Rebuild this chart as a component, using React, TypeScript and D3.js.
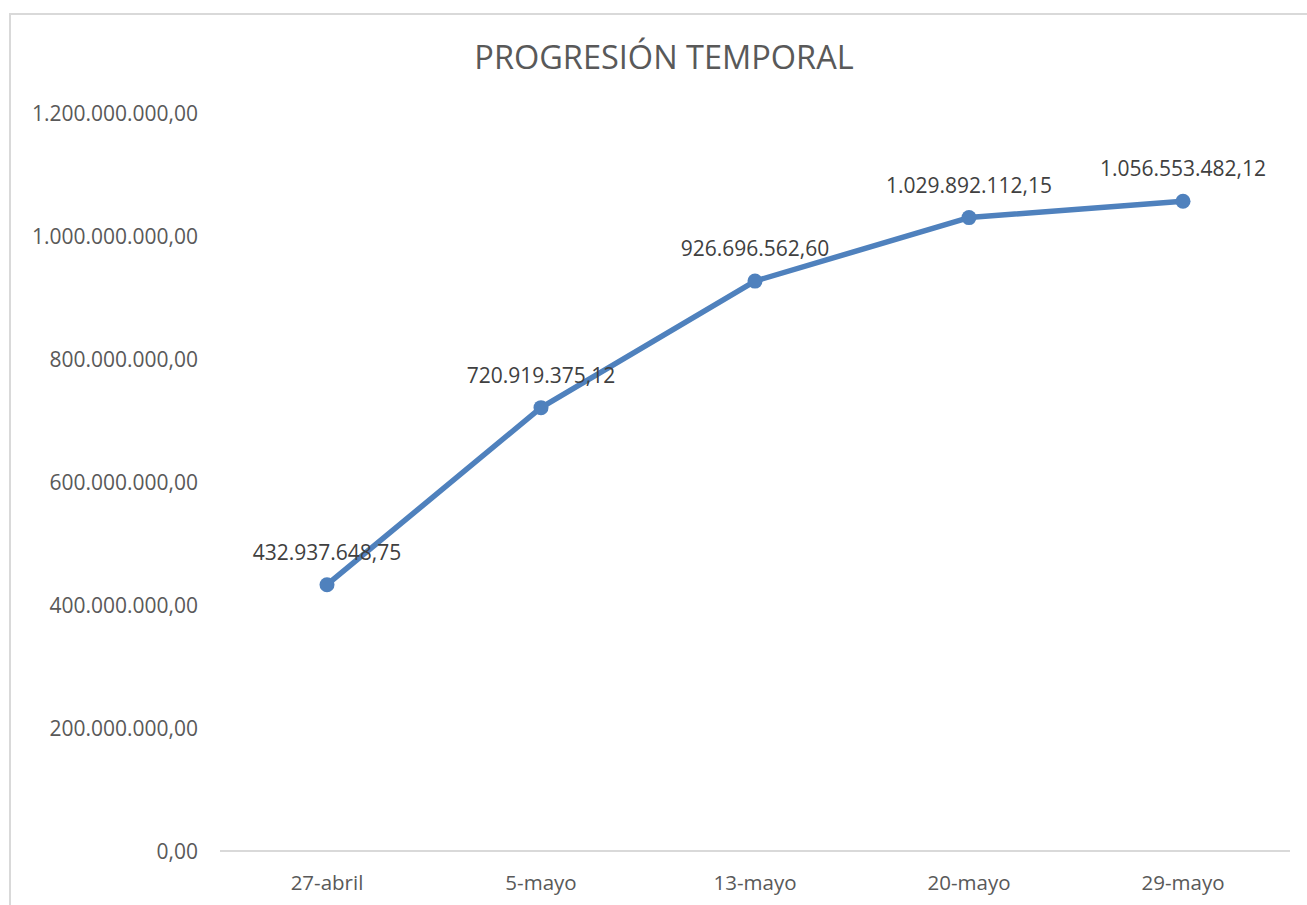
import React from "react";
import * as d3 from "d3";

const categories = ["27-abril", "5-mayo", "13-mayo", "20-mayo", "29-mayo"];
const values = [432937648.75, 720919375.12, 926696562.6, 1029892112.15, 1056553482.12];
const yTicks = [0, 200000000, 400000000, 600000000, 800000000, 1000000000, 1200000000];
const title = "PROGRESIÓN TEMPORAL";

const fmt = (v: number) => {
  const [i, d] = v.toFixed(2).split(".");
  return i.replace(/\B(?=(\d{3})+(?!\d))/g, ".") + "," + d;
};

export default function App() {
  const W = 1307, H = 905;
  const left = 220, right = 1290, top = 113, bottom = 851;
  const x = d3.scaleBand<string>().domain(categories).range([left, right]);
  const y = d3.scaleLinear().domain([0, 1200000000]).range([bottom, top]);
  const cx = (i: number) => (x(categories[i]) as number) + x.bandwidth() / 2;
  const line = d3.line<number>().x((_, i) => cx(i)).y((v) => y(v));
  const font = "'Open Sans', sans-serif";
  const grey = "#595959";
  const blue = "#4f81bd";
  return (
    <svg width={W} height={H} style={{ position: "absolute", left: 0, top: 0 }} fontFamily={font}>
      <rect x={0} y={0} width={W} height={H} fill="#fff" />
      <rect x={10} y={14} width={1310} height={1000} fill="none" stroke="#d9d9d9" strokeWidth={2} />
      <text x={664} y={69} textAnchor="middle" fontSize={32.5} fill={grey}>{title}</text>
      {yTicks.map((t) => (
        <text key={t} x={198} y={y(t)} dy="0.36em" textAnchor="end" fontSize={21} fill={grey}>{fmt(t)}</text>
      ))}
      <line x1={left} x2={right} y1={bottom} y2={bottom} stroke="#d9d9d9" strokeWidth={2} />
      {categories.map((c, i) => (
        <text key={c} x={cx(i)} y={890} textAnchor="middle" fontSize={20.5} fill={grey}>{c}</text>
      ))}
      <path d={line(values) || ""} fill="none" stroke={blue} strokeWidth={5.5} strokeLinejoin="round" strokeLinecap="round" />
      {values.map((v, i) => (
        <circle key={i} cx={cx(i)} cy={y(v)} r={7.5} fill={blue} />
      ))}
      {values.map((v, i) => (
        <text key={"l" + i} x={cx(i)} y={y(v) - 25} textAnchor="middle" fontSize={21} fill={"#404040"}>{fmt(v)}</text>
      ))}
    </svg>
  );
}
